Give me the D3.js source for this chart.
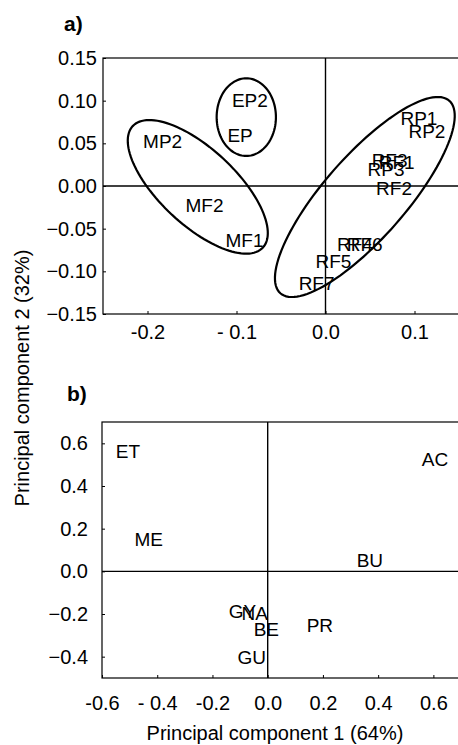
<!DOCTYPE html>
<html>
<head>
<meta charset="utf-8">
<script src="https://cdn.jsdelivr.net/npm/d3@7"></script>
<style>
  body { margin: 0; background: #fff; }
  svg text { font-family: "Liberation Sans", Arial, Helvetica, sans-serif; fill: #000; }
</style>
</head>
<body>
<div id="chart"></div>
<script>
// panel a: sample scores
const labelsA = ["EP2", "EP", "MP2", "MF2", "MF1", "RP1", "RP2", "RF3", "RF1", "RP3", "RF2", "RF4", "RF6", "RF5", "RF7"];
const pc1A = [-0.085, -0.096, -0.183, -0.136, -0.091, 0.105, 0.114, 0.072, 0.080, 0.068, 0.077, 0.033, 0.044, 0.009, -0.010];
const pc2A = [0.101, 0.060, 0.053, -0.022, -0.063, 0.079, 0.064, 0.030, 0.028, 0.020, -0.002, -0.068, -0.068, -0.088, -0.114];
const xTicksA = [-0.2, -0.1, 0.0, 0.1];
const xTickLabelsA = ["-0.2", "- 0.1", "0.0", "0.1"];
const yTicksA = [0.15, 0.10, 0.05, 0.00, -0.05, -0.10, -0.15];

// panel a: group ellipses (centre, major and minor semi-axis vectors)
const groupCx = [-0.089, -0.1435, 0.0442];
const groupCy = [0.0807, -0.001, -0.0129];
const groupMajor = [[0, 0.0455], [0.0731, -0.0712], [0.0949, 0.1128]];
const groupMinor = [[0.0333, 0], [-0.0291, -0.0326], [0.0346, -0.0318]];

// panel b: variable loadings
const labelsB = ["ET", "AC", "ME", "BU", "GY", "NA", "BE", "PR", "GU"];
const pc1B = [-0.506, 0.606, -0.431, 0.370, -0.091, -0.047, -0.005, 0.189, -0.058];
const pc2B = [0.564, 0.527, 0.153, 0.053, -0.186, -0.195, -0.271, -0.254, -0.400];
const xTicksB = [-0.6, -0.4, -0.2, 0.0, 0.2, 0.4, 0.6];
const xTickLabelsB = ["-0.6", "- 0.4", "-0.2", "0.0", "0.2", "0.4", "0.6"];
const yTicksB = [0.6, 0.4, 0.2, 0.0, -0.2, -0.4];

const width = 458;
const height = 745;

const svg = d3.select("#chart")
    .append("svg")
    .attr("width", width)
    .attr("height", height);

// draws one framed panel with zero lines and inward ticks
function drawPanel(opt) {
    const x = d3.scaleLinear(opt.xDomain, [opt.left, opt.right]);
    const y = d3.scaleLinear(opt.yDomain, [opt.bottom, opt.top]);
    const g = svg.append("g");

    g.append("g")
        .attr("transform", `translate(0,${opt.bottom})`)
        .call(d3.axisBottom(x).tickValues(opt.xTicks)
            .tickFormat((d, i) => opt.xTickLabels[i])
            .tickSizeInner(-3).tickSizeOuter(0).tickPadding(opt.xPad))
        .call(a => a.select(".domain").remove())
        .call(a => a.selectAll("text").attr("font-size", 20).attr("font-family", null));

    g.append("g")
        .attr("transform", `translate(${opt.left},0)`)
        .call(d3.axisLeft(y).tickValues(opt.yTicks)
            .tickFormat(opt.yFormat)
            .tickSizeInner(-3).tickSizeOuter(0).tickPadding(opt.yPad))
        .call(a => a.select(".domain").remove())
        .call(a => a.selectAll("text").attr("font-size", 20).attr("font-family", null));

    // frame (right side runs past the page edge)
    g.append("rect")
        .attr("x", opt.left)
        .attr("y", opt.top)
        .attr("width", opt.right - opt.left)
        .attr("height", opt.bottom - opt.top)
        .attr("fill", "none")
        .attr("stroke", "#000")
        .attr("stroke-width", 1.2);

    // zero lines
    g.append("line")
        .attr("x1", x(0)).attr("x2", x(0))
        .attr("y1", opt.top).attr("y2", opt.bottom)
        .attr("stroke", "#000").attr("stroke-width", 1.4);
    g.append("line")
        .attr("x1", opt.left).attr("x2", opt.right)
        .attr("y1", y(0)).attr("y2", y(0))
        .attr("stroke", "#000").attr("stroke-width", 1.4);

    g.append("text")
        .attr("x", opt.tagX)
        .attr("y", opt.tagY)
        .attr("font-size", 21)
        .attr("font-weight", "bold")
        .text(opt.tag);

    return { g, x, y };
}

// panel a
const pa = drawPanel({
    xDomain: [-0.25, 0.15], yDomain: [-0.15, 0.15],
    left: 103, right: 459, top: 58, bottom: 314,
    xTicks: xTicksA, xTickLabels: xTickLabelsA, yTicks: yTicksA,
    yFormat: d3.format(".2f"), xPad: 11, yPad: 6,
    tag: "a)", tagX: 64, tagY: 31
});

const ellipse = d3.line()
    .x(p => pa.x(p[0]))
    .y(p => pa.y(p[1]))
    .curve(d3.curveLinearClosed);

const steps = d3.range(0, 2 * Math.PI, Math.PI / 60);
groupCx.forEach((cx, i) => {
    const pts = steps.map(t => [
        cx + Math.cos(t) * groupMajor[i][0] + Math.sin(t) * groupMinor[i][0],
        groupCy[i] + Math.cos(t) * groupMajor[i][1] + Math.sin(t) * groupMinor[i][1]
    ]);
    pa.g.append("path")
        .attr("d", ellipse(pts))
        .attr("fill", "none")
        .attr("stroke", "#000")
        .attr("stroke-width", 2.2);
});

pa.g.selectAll(".lab")
    .data(labelsA)
    .join("text")
    .attr("x", (d, i) => pa.x(pc1A[i]))
    .attr("y", (d, i) => pa.y(pc2A[i]))
    .attr("dy", "0.36em")
    .attr("text-anchor", "middle")
    .attr("font-size", 19)
    .text(d => d);

// panel b
const pb = drawPanel({
    xDomain: [-0.6, 0.7], yDomain: [-0.5, 0.7],
    left: 102, right: 461, top: 422, bottom: 678,
    xTicks: xTicksB, xTickLabels: xTickLabelsB, yTicks: yTicksB,
    yFormat: d3.format(".1f"), xPad: 18, yPad: 14,
    tag: "b)", tagX: 67, tagY: 401
});

pb.g.selectAll(".lab")
    .data(labelsB)
    .join("text")
    .attr("x", (d, i) => pb.x(pc1B[i]))
    .attr("y", (d, i) => pb.y(pc2B[i]))
    .attr("dy", "0.36em")
    .attr("text-anchor", "middle")
    .attr("font-size", 19)
    .text(d => d);

// axis titles
svg.append("text")
    .attr("x", 275)
    .attr("y", 740)
    .attr("text-anchor", "middle")
    .attr("font-size", 20)
    .text("Principal component 1 (64%)");

svg.append("text")
    .attr("transform", "translate(29,378) rotate(-90)")
    .attr("text-anchor", "middle")
    .attr("font-size", 20)
    .text("Principal component 2 (32%)");
</script>
</body>
</html>
